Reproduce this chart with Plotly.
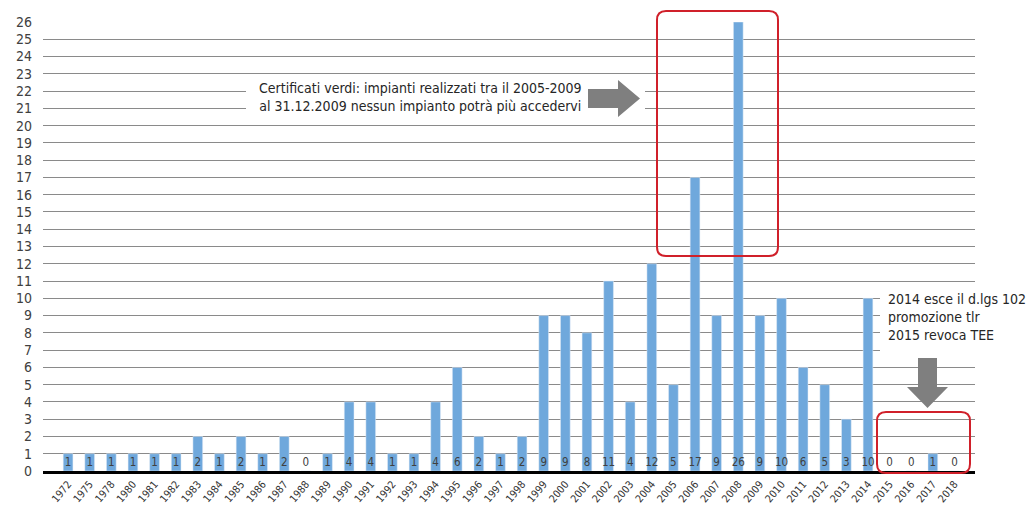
import plotly.graph_objects as go

# Impianti per anno di entrata in esercizio
anni = ["1972", "1975", "1978", "1980", "1981", "1982", "1983", "1984", "1985", "1986",
        "1987", "1988", "1989", "1990", "1991", "1992", "1993", "1994", "1995", "1996",
        "1997", "1998", "1999", "2000", "2001", "2002", "2003", "2004", "2005", "2006",
        "2007", "2008", "2009", "2010", "2011", "2012", "2013", "2014", "2015", "2016",
        "2017", "2018"]
impianti = [1, 1, 1, 1, 1, 1, 2, 1, 2, 1,
            2, 0, 1, 4, 4, 1, 1, 4, 6, 2,
            1, 2, 9, 9, 8, 11, 4, 12, 5, 17,
            9, 26, 9, 10, 6, 5, 3, 10, 0, 0,
            1, 0]
y_ticks = list(range(0, 27))

W, H = 1027, 505
L, R, T, B = 43, 52, 22, 34
PW, PH = W - L - R, H - T - B

FONT = "Liberation Sans Narrow, Arial Narrow, DejaVu Sans Condensed, sans-serif"
BAR = "#6fa8dc"
RED = "#d0202a"
ARROW = "#7f7f7f"


def px(x):
    return (x - L) / PW


def py(y):
    return (H - B - y) / PH


def rounded_rect(x0, y0, x1, y1, r=9):
    a0, a1 = px(x0), px(x1)
    b0, b1 = py(y1), py(y0)
    rx, ry = r / PW, r / PH
    return (f"M {a0 + rx},{b0} L {a1 - rx},{b0} Q {a1},{b0} {a1},{b0 + ry} "
            f"L {a1},{b1 - ry} Q {a1},{b1} {a1 - rx},{b1} L {a0 + rx},{b1} "
            f"Q {a0},{b1} {a0},{b1 - ry} L {a0},{b0 + ry} Q {a0},{b0} {a0 + rx},{b0} Z")


def poly(points):
    pts = [f"{px(x)},{py(y)}" for x, y in points]
    return "M " + " L ".join(pts) + " Z"


fig = go.Figure()
fig.add_trace(go.Bar(x=anni, y=impianti, marker_color=BAR, width=0.45,
                     hoverinfo="x+y"))
# etichette dei valori alla base delle barre
fig.add_trace(go.Scatter(x=anni, y=[0.45] * len(anni), mode="text",
                         text=[str(v) for v in impianti],
                         textfont=dict(family=FONT, size=11.5, color="#404040"),
                         hoverinfo="skip"))

shapes = [
    # fondo bianco dietro le note
    dict(type="rect", xref="paper", yref="paper", x0=px(246), x1=px(645),
         y0=py(118), y1=py(79), fillcolor="white", line_width=0, layer="above"),
    dict(type="rect", xref="paper", yref="paper", x0=px(880), x1=px(1027),
         y0=py(352), y1=py(284), fillcolor="white", line_width=0, layer="above"),
    # frecce
    dict(type="path", xref="paper", yref="paper", fillcolor=ARROW, line_width=0,
         path=poly([(588, 89), (618, 89), (618, 80), (640, 98.5), (618, 117),
                    (618, 108), (588, 108)])),
    dict(type="path", xref="paper", yref="paper", fillcolor=ARROW, line_width=0,
         path=poly([(918, 358), (937, 358), (937, 387), (948, 387), (927.5, 408),
                    (907, 387), (918, 387)])),
    # riquadri rossi
    dict(type="path", xref="paper", yref="paper", line=dict(color=RED, width=2),
         path=rounded_rect(657, 11, 778, 256)),
    dict(type="path", xref="paper", yref="paper", line=dict(color=RED, width=2),
         path=rounded_rect(877, 412, 970, 473)),
]

annotations = [
    dict(xref="paper", yref="paper", x=px(420), y=py(97), xanchor="center",
         yanchor="middle", showarrow=False, align="center",
         text="Certificati verdi: impianti realizzati tra il 2005-2009<br>"
              "al 31.12.2009 nessun impianto potrà più accedervi",
         font=dict(family=FONT, size=14, color="#262626")),
    dict(xref="paper", yref="paper", x=px(886), y=py(317), xanchor="left",
         yanchor="middle", showarrow=False, align="left",
         text="2014 esce il d.lgs 102<br>promozione tlr<br>2015 revoca TEE",
         font=dict(family=FONT, size=14, color="#262626")),
]

fig.update_layout(
    width=W, height=H,
    margin=dict(l=L, r=R, t=T, b=B),
    paper_bgcolor="white", plot_bgcolor="white",
    showlegend=False, bargap=0.5,
    shapes=shapes, annotations=annotations,
    xaxis=dict(type="category", range=[-1.16, 41.95], tickangle=-50,
               tickfont=dict(family=FONT, size=10.5, color="#333333"),
               showgrid=False, showline=True, linecolor="black", linewidth=3,
               ticks="", automargin=False, fixedrange=True),
    yaxis=dict(range=[0, 26], tickvals=y_ticks, ticktext=[str(v) for v in y_ticks],
               tickfont=dict(family=FONT, size=14, color="#404040"),
               showgrid=True, gridcolor="#8a8a8a", gridwidth=1,
               zeroline=False, showline=False, ticks="", automargin=False,
               ticklabelstandoff=10, fixedrange=True),
)

fig.write_html("out.html")
